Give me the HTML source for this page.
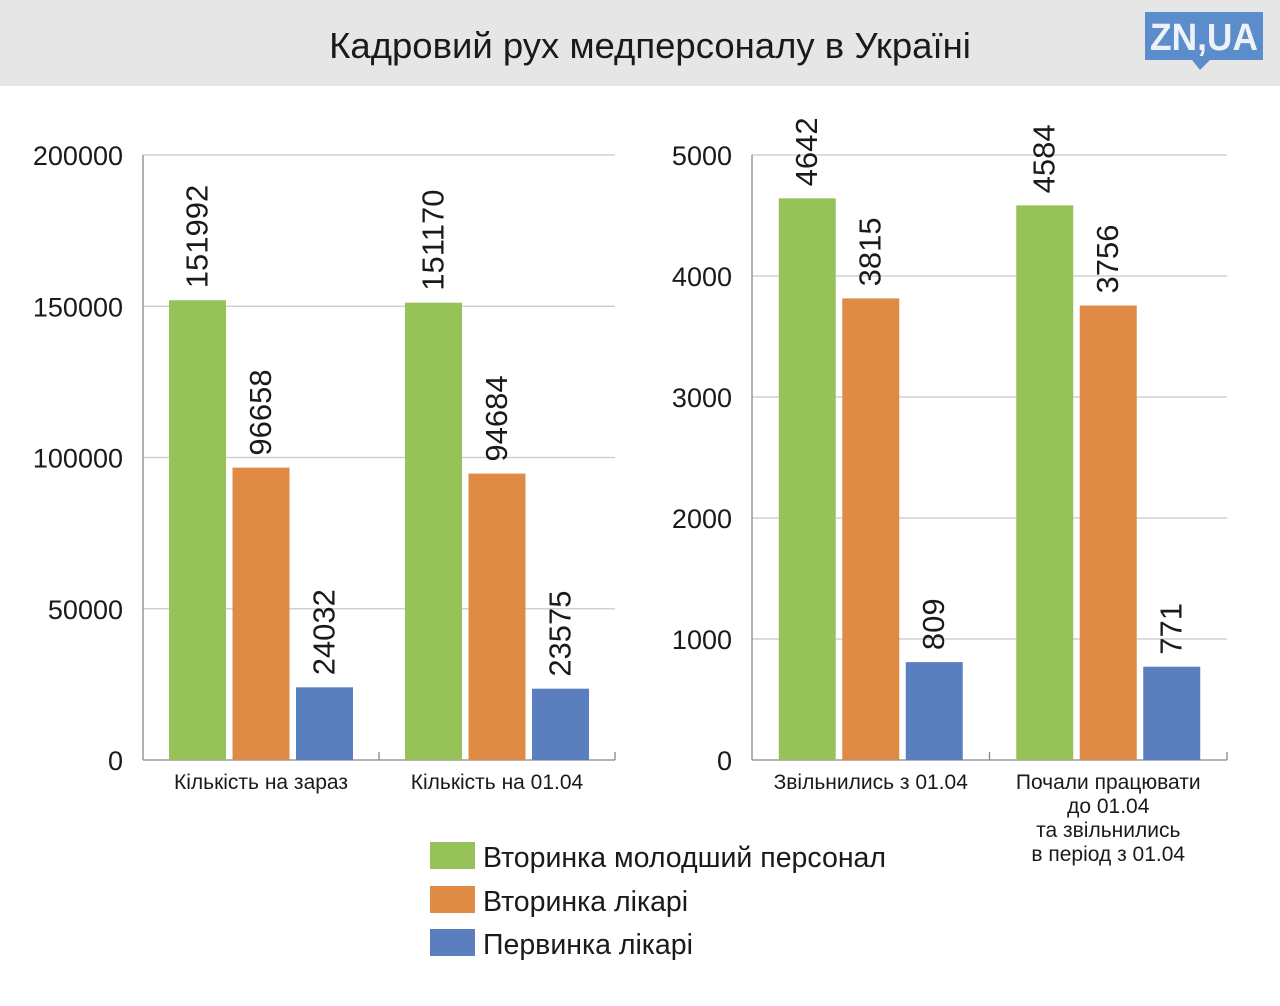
<!DOCTYPE html>
<html><head><meta charset="utf-8"><style>
body{margin:0;width:1280px;height:1001px;background:#fff;overflow:hidden;font-family:"Liberation Sans","DejaVu Sans",sans-serif}
</style></head><body>
<svg id="c" width="1280" height="1001" xmlns="http://www.w3.org/2000/svg" style="font-family:'Liberation Sans','DejaVu Sans',sans-serif">
<rect x="0" y="0" width="1280" height="86" fill="#e6e6e6"/>
<text x="650" y="58" font-size="36.5" text-anchor="middle" fill="#1a1a1a">Кадровий рух медперсоналу в Україні</text>
<g>
<rect x="1145" y="12" width="118" height="48" fill="#5b8ccc"/>
<polygon points="1192,60 1210,60 1200,70" fill="#5b8ccc"/>
<text x="1204" y="50" font-size="38" font-weight="bold" text-anchor="middle" fill="#eef2f8" textLength="108" lengthAdjust="spacingAndGlyphs">ZN,UA</text>
</g>
<g id="g1"></g><g id="g2"></g>
<g>
<rect x="430" y="842" width="45" height="27" fill="#97c25a"/>
<text x="483" y="867" font-size="28.5" fill="#1a1a1a">Вторинка молодший персонал</text>
<rect x="430" y="886" width="45" height="27" fill="#e08b45"/>
<text x="483" y="911" font-size="28.5" fill="#1a1a1a">Вторинка лікарі</text>
<rect x="430" y="929" width="45" height="27" fill="#5b7ebf"/>
<text x="483" y="954" font-size="28.5" fill="#1a1a1a">Первинка лікарі</text>
</g>
</svg>
<script>
const leftCategories = [["Кількість на зараз"], ["Кількість на 01.04"]];
const leftGreen = [151992, 151170];
const leftOrange = [96658, 94684];
const leftBlue = [24032, 23575];
const leftTicks = [0, 50000, 100000, 150000, 200000];
const rightCategories = [["Звільнились з 01.04"], ["Почали працювати", "до 01.04", "та звільнились", "в період з 01.04"]];
const rightGreen = [4642, 4584];
const rightOrange = [3815, 3756];
const rightBlue = [809, 771];
const rightTicks = [0, 1000, 2000, 3000, 4000, 5000];

const NS = "http://www.w3.org/2000/svg";
const colors = ["#97c25a", "#e08b45", "#5b7ebf"];
function mk(parent, tag, attrs, txt) {
  const e = document.createElementNS(NS, tag);
  for (const k in attrs) e.setAttribute(k, attrs[k]);
  if (txt !== undefined) e.textContent = txt;
  parent.appendChild(e);
  return e;
}
function draw(gid, x0, x1, cats, series, ticks, prefix) {
  const g = document.getElementById(gid);
  const yTop = 155, yBot = 760, max = ticks[ticks.length - 1];
  const y = v => yBot - (v / max) * (yBot - yTop);
  ticks.forEach(t => {
    const ln = mk(g, "line", {x1: x0, x2: x1, y1: y(t), y2: y(t), stroke: t === 0 ? "#888" : "#c8c8c8", "stroke-width": 1.3});
    
    
    const tx = mk(g, "text", {x: x0 - 20, y: y(t) + 10, "font-size": 27, "text-anchor": "end", fill: "#1a1a1a"}, String(t));
    
    
  });
  const ax = mk(g, "line", {x1: x0, x2: x0, y1: yTop, y2: yBot, stroke: "#888", "stroke-width": 1.3});
  
  
  const gw = (x1 - x0) / cats.length;
  const bw = 57, gap = 6.5;
  cats.forEach((c, i) => {
    const cx = x0 + gw * (i + 0.5);
    const tk = mk(g, "line", {x1: x0 + gw * (i + 1), x2: x0 + gw * (i + 1), y1: yBot, y2: yBot - 8, stroke: "#888", "stroke-width": 1.3});
    
    
    c.forEach((line, j) => {
      const t = mk(g, "text", {x: cx, y: 789 + j * 24, "font-size": 21, "text-anchor": "middle", fill: "#1a1a1a"}, line);
      
      
    });
    series.forEach((s, k) => {
      const bx = cx - (bw * 1.5 + gap) + k * (bw + gap);
      const r = mk(g, "rect", {x: bx, y: y(s[i]), width: bw, height: yBot - y(s[i]), fill: colors[k]});
      
      
      const lx = bx + bw / 2 + 10, ly = y(s[i]) - 12;
      const v = mk(g, "text", {x: lx, y: ly, "font-size": 31, fill: "#1a1a1a", transform: `rotate(-90 ${lx} ${ly})`}, String(s[i]));
      
      
    });
  });
}
draw("g1", 143, 615, leftCategories, [leftGreen, leftOrange, leftBlue], leftTicks, "left");
draw("g2", 752, 1227, rightCategories, [rightGreen, rightOrange, rightBlue], rightTicks, "right");
</script>
</body></html>
